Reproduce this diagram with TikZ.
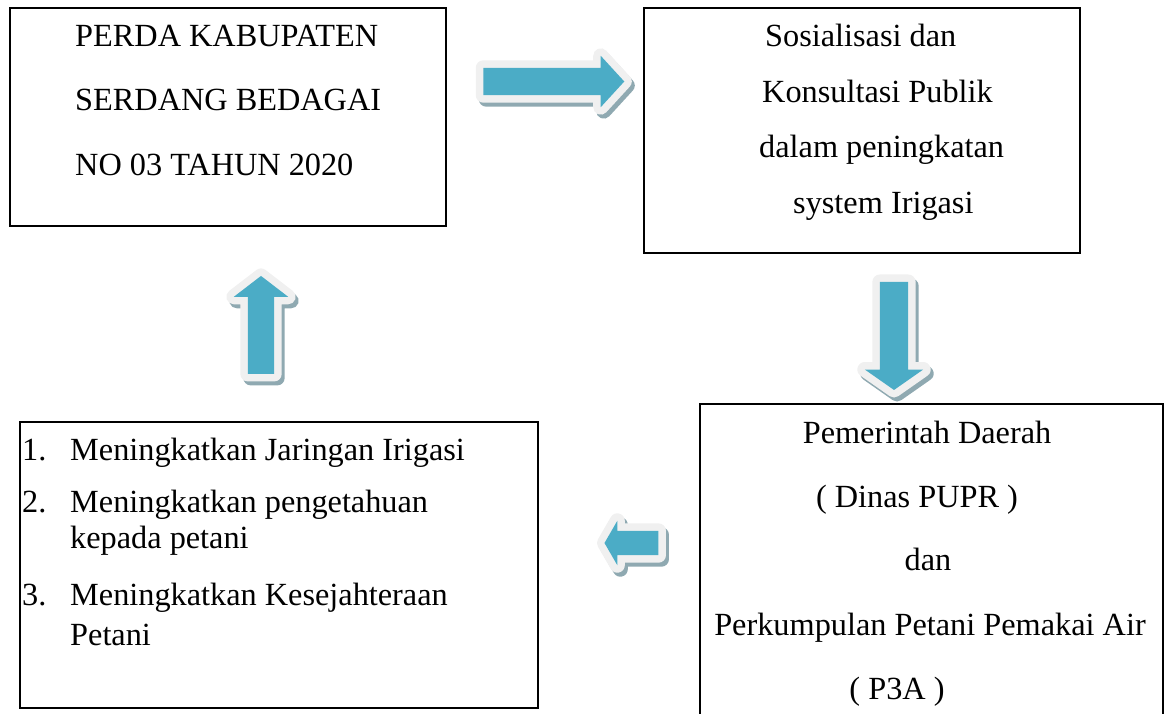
\documentclass[tikz,border=0pt]{standalone}
\usepackage{fontspec}
\setmainfont{Liberation Serif}
\usetikzlibrary{shapes.arrows, positioning}
\definecolor{arrowfill}{HTML}{4BACC6}
\definecolor{arrowrim}{HTML}{F0F0F0}
\definecolor{arrowshade}{HTML}{8FA9B1}

\begin{document}
\begin{tikzpicture}[x=1pt, y=-1pt,
    box/.style={draw, line width=1.5pt, inner sep=0pt},
    line/.style={inner sep=0pt, font=\fontsize{32.3}{38}\selectfont},
    blockarrow/.style={single arrow, inner sep=0pt, text width=0pt, text depth=0pt, fill=arrowfill,
        preaction={draw=arrowshade, fill=arrowshade, line width=15pt, line join=round, transform canvas={xshift=3pt, yshift=-4pt}},
        preaction={draw=arrowrim, fill=arrowrim, line width=15pt, line join=round}}
]

\clip (0,0) rectangle (1169,714);

\node[box, minimum width=436pt, minimum height=218pt] (perda) at (228,117) {};
\node[box, minimum width=436pt, minimum height=245pt] (sosial) at (862,130.5) {};
\node[box, minimum width=463pt, minimum height=316pt] (pemda) at (931.5,562) {};
\node[box, minimum width=518pt, minimum height=286pt] (hasil) at (279,565) {};

\node[blockarrow, text height=27pt, minimum height=141pt, single arrow head extend=12pt, single arrow tip angle=95] (toSosial) at (547.5,81.5) {};
\node[blockarrow, text height=28pt, minimum height=108pt, single arrow head extend=15pt, single arrow tip angle=110, rotate=-90] (toPemda) at (894,331) {};
\node[blockarrow, text height=24pt, minimum height=54pt, single arrow head extend=10pt, single arrow tip angle=120, rotate=180] (toHasil) at (635,543) {};
\node[blockarrow, text height=26pt, minimum height=98pt, single arrow head extend=14pt, single arrow tip angle=105, rotate=90] (toPerda) at (261,330) {};

\node[line, anchor=base west] (perda1) at (75,47) {PERDA KABUPATEN};
\node[line, anchor=base west] (perda2) at (75,111) {SERDANG BEDAGAI};
\node[line, anchor=base west] (perda3) at (75,176) {NO 03 TAHUN 2020};

\node[line, anchor=base west] (sosial1) at (765,47) {Sosialisasi dan};
\node[line, anchor=base west] (sosial2) at (762,103) {Konsultasi Publik};
\node[line, anchor=base west] (sosial3) at (759,158) {dalam peningkatan};
\node[line, anchor=base west] (sosial4) at (793,214) {system Irigasi};

\node[line, anchor=base] (pemda1) at (927,443) {Pemerintah Daerah};
\node[line, anchor=base] (pemda2) at (917,507) {( Dinas PUPR )};
\node[line, anchor=base] (pemda3) at (928,570) {dan};
\node[line, anchor=base] (pemda4) at (930,635) {Perkumpulan Petani Pemakai Air};
\node[line, anchor=base] (pemda5) at (897,699) {( P3A )};

\node[line, anchor=base west] (num1) at (22,460) {1.};
\node[line, anchor=base west] (num2) at (22,512) {2.};
\node[line, anchor=base west] (num3) at (22,605) {3.};
\node[line, anchor=base west] (hasil1) at (70,460) {Meningkatkan Jaringan Irigasi};
\node[line, anchor=base west] (hasil2) at (70,512) {Meningkatkan pengetahuan};
\node[line, anchor=base west] (hasil2b) at (70,548) {kepada petani};
\node[line, anchor=base west] (hasil3) at (70,605) {Meningkatkan Kesejahteraan};
\node[line, anchor=base west] (hasil3b) at (70,645) {Petani};

\end{tikzpicture}
\end{document}
